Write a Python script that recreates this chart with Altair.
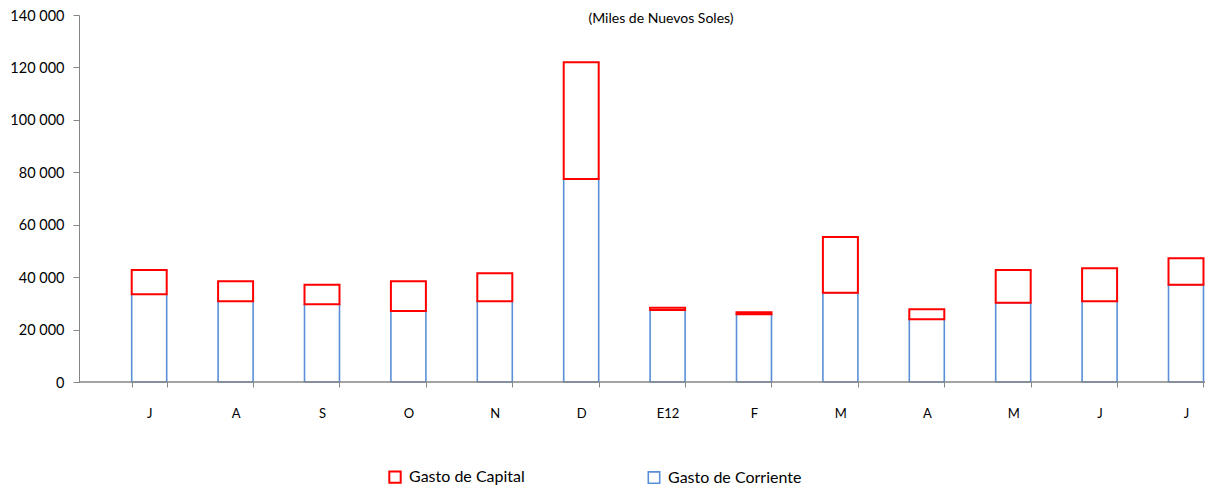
import altair as alt
import pandas as pd

# ---- data (miles de nuevos soles) ----
meses = ["J", "A", "S", "O", "N", "D", "E12", "F", "M", "A", "M", "J", "J"]
gasto_corriente = [33460, 30790, 29640, 27090, 30790, 77440, 27470, 25820, 34070, 23920, 30260, 30790, 37130]
gasto_capital = [9270, 7610, 7490, 11310, 10670, 44530, 880, 770, 21230, 3810, 12470, 12590, 10060]
series = ["Gasto de Capital", "Gasto de Corriente"]
colores = ["#FF0000", "#5A8FD8"]
y_ticks = [0, 20000, 40000, 60000, 80000, 100000, 120000, 140000]
subtitulo = "(Miles de Nuevos Soles)"

rows = []
for i, m in enumerate(meses):
    rows.append({"idx": i, "serie": series[1], "valor": gasto_corriente[i], "ord": 0})
    rows.append({"idx": i, "serie": series[0], "valor": gasto_capital[i], "ord": 1})
df = pd.DataFrame(rows)

W, H = 1126, 367
FONT = "Lato"
AXIS_GRAY = "#868686"

label_arr = "[" + ",".join("'" + m + "'" for m in meses) + "]"

bars = alt.Chart(df).mark_bar(fill="white").encode(
    x=alt.X(
        "idx:O",
        scale=alt.Scale(range=[27, 27 + 13 * 86.4], paddingInner=0.595, paddingOuter=0.2975),
        axis=alt.Axis(
            title=None, domain=False, tickBand="extent", tickSize=5, tickColor=AXIS_GRAY,
            labelAngle=0, labelFontSize=13, labelFont=FONT, labelColor="black",
            labelPadding=20, labelExpr=label_arr + "[datum.value]",
        ),
    ),
    y=alt.Y(
        "valor:Q",
        stack="zero",
        scale=alt.Scale(domain=[0, 140000], nice=False),
        axis=alt.Axis(
            title=None, grid=False, values=y_ticks, tickSize=6, tickColor=AXIS_GRAY,
            domainColor=AXIS_GRAY, labelFontSize=14.5, labelFont=FONT, labelColor="black",
            labelPadding=9, labelOffset=1,
            labelExpr="replace(format(datum.value, ','), regexp(',', 'g'), ' ')",
        ),
    ),
    stroke=alt.Stroke(
        "serie:N",
        scale=alt.Scale(domain=series, range=colores),
        legend=alt.Legend(
            title=None, orient="none", legendX=308, legendY=454, direction="horizontal",
            symbolType="square", symbolSize=130, symbolFillColor="white",
            symbolStrokeWidth=1.8, labelFontSize=16, labelFont=FONT, labelColor="black",
            columnPadding=120, labelOffset=6, padding=0,
        ),
    ),
    strokeWidth=alt.StrokeWidth(
        "serie:N", scale=alt.Scale(domain=series, range=[2, 1.6]), legend=None
    ),
    order=alt.Order("ord:Q", sort="ascending"),
)

x_line = alt.Chart(pd.DataFrame({"a": [0]})).mark_rule(color=AXIS_GRAY, strokeWidth=1.5).encode(
    x=alt.value(0), x2=alt.value(W), y=alt.value(H)
)

title_txt = alt.Chart(pd.DataFrame({"t": [subtitulo]})).mark_text(
    fontSize=14, font=FONT, color="black", baseline="top", align="center"
).encode(text="t:N", x=alt.value(582), y=alt.value(-3))

chart = alt.layer(bars, x_line, title_txt).properties(
    width=W, height=H,
    autosize=alt.AutoSizeParams(type="none"),
    padding={"left": 71, "top": 7, "right": 0, "bottom": 104},
).configure_view(stroke=None)

chart.save("out.html", embed_options={"renderer": "svg", "actions": False})
